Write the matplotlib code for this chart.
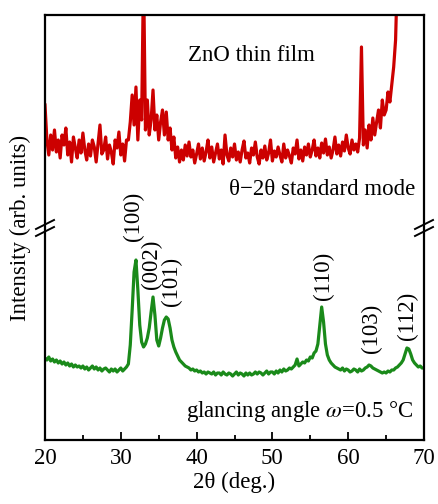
import numpy as np
import matplotlib
matplotlib.use("Agg")
import matplotlib.pyplot as plt
from matplotlib.lines import Line2D

plt.rcParams['font.family'] = ['Liberation Serif', 'DejaVu Serif']
plt.rcParams['mathtext.fontset'] = 'stix'

# 2theta grid (deg), step 0.25 from 20 to 70
two_theta = np.arange(20.0, 70.001, 0.25)

# theta-2theta standard mode (red, upper trace), arbitrary units
standard_mode = [
    335, 300, 285, 305,
    290, 310, 288, 300,
    282, 305, 295, 312,
    285, 298, 278, 303,
    292, 282, 300, 287,
    307, 290, 280, 296,
    284, 300, 293, 278,
    297, 315, 286, 290,
    303, 281, 295, 288,
    276, 300, 292, 308,
    285, 296, 279, 300,
    300, 318, 345, 315,
    353, 300, 340, 320,
    470, 310, 340, 305,
    320, 350, 310, 325,
    300, 318, 330, 305,
    328, 300, 312, 290,
    303, 282, 293, 278,
    290, 280, 295, 284,
    298, 283, 290, 277,
    286, 296, 281, 292,
    279, 288, 300, 282,
    293, 278, 287, 296,
    281, 290, 276, 305,
    285, 279, 292, 283,
    296, 280, 288, 278,
    290, 299, 282, 287,
    277, 292, 285, 298,
    283, 276, 290, 282,
    294, 280, 287, 300,
    279, 289, 283, 293,
    285, 278, 296, 282,
    290, 284, 277, 292,
    286, 300, 281, 290,
    279, 293, 285, 296,
    283, 290, 300, 284,
    292, 282, 297, 287,
    301, 285, 293, 282,
    290, 303, 286, 295,
    284, 298, 289, 305,
    292, 286, 300, 290,
    296, 288, 302, 393,
    295, 310, 292, 315,
    300, 322, 305, 318,
    330, 312, 340, 325,
    330, 348, 338, 355,
    373, 400, 470, 520,
    560, 600, 640, 680,
    720, 760, 800, 840,
    880, 920, 960, 1000,
    1040,
]

# glancing angle mode (green, lower trace), arbitrary units
glancing_mode = [
    82, 80, 83, 79,
    81, 78, 80, 77,
    79, 76, 78, 75,
    77, 74, 76, 73,
    75, 73, 74, 72,
    74, 71, 73, 70,
    72, 74, 71, 73,
    70, 72, 69, 71,
    72, 70, 68, 71,
    69, 71, 68, 70,
    72, 69, 71, 73,
    76, 95, 130, 168,
    180, 150, 115, 98,
    93, 96, 102, 112,
    128, 143, 125, 100,
    94, 102, 112, 120,
    123, 121, 112, 100,
    93, 88, 84, 80,
    78, 76, 74, 73,
    72, 70, 71, 69,
    70, 68, 69, 67,
    68, 66, 68, 67,
    66, 68, 65, 67,
    67, 65, 68, 66,
    65, 67, 66, 64,
    66, 68, 65, 67,
    66, 64, 67, 65,
    67, 65, 66, 68,
    66, 68, 67, 65,
    67, 69, 66, 68,
    68, 66, 69, 67,
    70, 68, 71, 69,
    70, 72, 71, 73,
    75, 81, 74, 76,
    78, 77, 80, 79,
    83, 82, 87, 89,
    96, 115, 133, 118,
    96, 85, 80, 77,
    75, 73, 72, 71,
    70, 72, 69, 71,
    70, 68, 69, 71,
    70, 68, 71, 69,
    70, 72, 73, 75,
    74, 72, 71, 70,
    69, 68, 67, 68,
    67, 69, 68, 70,
    70, 72, 73, 75,
    77, 80, 86, 92,
    91, 86, 80, 77,
    75, 73, 74, 72,
    72,
]

peak_labels = ["(100)", "(002)", "(101)", "(110)", "(103)", "(112)"]
peak_pos = [31.7, 34.1, 36.7, 56.8, 63.1, 67.8]
peak_label_y = [224, 176, 159, 164, 112, 124]

xticks = [20, 30, 40, 50, 60, 70]

W, H = 438, 504
fig = plt.figure(figsize=(W / 100, H / 100), dpi=100)
ax = fig.add_axes([45 / W, 1 - 440 / H, (424 - 45) / W, (440 - 15) / H])

ax.plot(two_theta, standard_mode, color='#cc0000', lw=2.3)
ax.plot(two_theta, glancing_mode, color='#1a8a1a', lw=2.3)

ax.set_xlim(20, 70)
ax.set_ylim(0, 425)
ax.set_yticks([])
ax.set_xticks(xticks)
ax.set_xticks([25, 35, 45, 55, 65], minor=True)
ax.tick_params(axis='x', which='major', direction='in', length=6, width=1.3,
               labelsize=16.5, pad=6)
ax.tick_params(axis='x', which='minor', direction='in', length=3.5, width=1.3)
for s in ax.spines.values():
    s.set_linewidth(1.6)

for lab, xp, yp in zip(peak_labels, peak_pos, peak_label_y):
    ax.text(xp, yp, lab, rotation=90, ha='center', va='center', fontsize=16.5)

ax.text(47.3, 379, "ZnO thin film", ha='center', va='baseline', fontsize=16.5)
ax.text(68.8, 245, "θ\u22122θ standard mode", ha='right', va='baseline', fontsize=16.5)
ax.text(68.7, 23, "glancing angle $\\omega$=0.5 °C", ha='right', va='baseline', fontsize=16.5)

ax.set_xlabel("2θ (deg.)", fontsize=16.5, labelpad=2)
fig.text(20 / W, 1 - 228 / H, "Intensity (arb. units)", rotation=90,
         ha='center', va='center', fontsize=16.5)

# axis break marks on both spines
for xc in (45, 424):
    for dy in (-3.5, 3.5):
        yc = 228 + dy
        xs = [(xc - 9) / W, (xc + 9) / W]
        ys = [1 - (yc + 4.5) / H, 1 - (yc - 4.5) / H]
        fig.add_artist(Line2D(xs, ys, color='black', lw=1.4,
                              transform=fig.transFigure))

fig.savefig("out.png", dpi=100)
